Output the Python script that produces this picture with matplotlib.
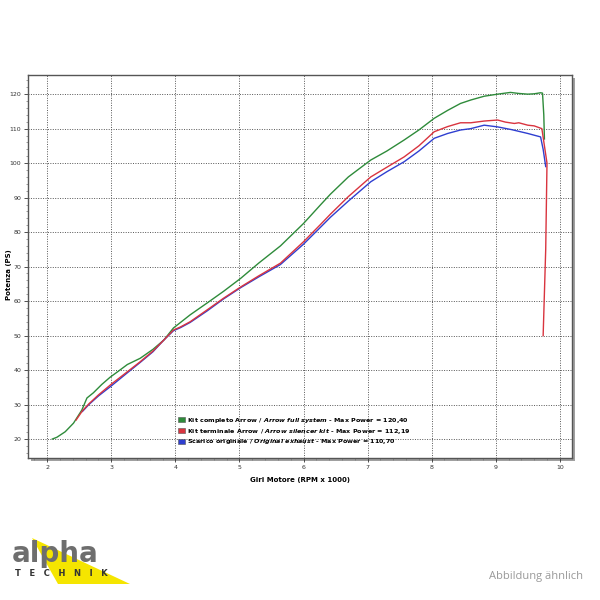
import matplotlib.pyplot as plt
import numpy as np
from matplotlib.patches import Polygon, Rectangle, Patch
from matplotlib.ticker import MultipleLocator

# --- data (RPM x 1000, PS) ---
rpm_full = [2.08, 2.15, 2.28, 2.41, 2.54, 2.62, 2.72, 2.85, 2.98, 3.12, 3.25, 3.45, 3.65, 3.82,
            3.97, 4.08, 4.23, 4.5, 4.75, 5.02, 5.3, 5.64, 6.0, 6.27, 6.42, 6.7, 7.05, 7.3,
            7.57, 7.8, 8.04, 8.25, 8.45, 8.61, 8.82, 9.03, 9.23, 9.36, 9.5, 9.6, 9.7, 9.73, 9.75, 9.76]
ps_full = [20.0, 20.5, 22.1, 24.6, 28.4, 31.9, 33.4, 35.8, 37.9, 39.8, 41.6, 43.4, 46.0, 48.7,
           52.2, 53.8, 56.0, 59.5, 62.8, 66.6, 71.0, 76.0, 82.5, 88.0, 91.0, 96.0, 100.9, 103.5,
           106.7, 109.6, 113.0, 115.3, 117.3, 118.3, 119.4, 120.0, 120.5, 120.2, 120.0, 120.1, 120.4, 120.3, 114.0, 107.0]

rpm_silencer = [2.45, 2.55, 2.65, 2.8, 3.0, 3.25, 3.45, 3.65, 3.82, 3.97, 4.08, 4.23, 4.5, 4.75,
                5.02, 5.3, 5.64, 6.0, 6.27, 6.42, 6.7, 7.05, 7.3, 7.57, 7.8, 8.04, 8.25, 8.45,
                8.61, 8.82, 9.03, 9.15, 9.29, 9.36, 9.5, 9.6, 9.72, 9.76, 9.80, 9.78, 9.74]
ps_silencer = [25.5, 28.2, 30.2, 32.8, 35.9, 39.5, 42.4, 45.5, 48.7, 51.6, 52.5, 54.0, 57.5, 60.8,
               64.1, 67.3, 71.0, 77.2, 82.3, 85.2, 90.3, 96.0, 98.8, 101.8, 105.0, 109.1, 110.6, 111.7,
               111.7, 112.2, 112.5, 111.9, 111.5, 111.7, 111.0, 110.8, 110.0, 105.0, 100.0, 75.0, 50.0]

rpm_original = [2.55, 2.65, 2.8, 3.0, 3.25, 3.45, 3.65, 3.82, 3.97, 4.08, 4.23, 4.5, 4.75,
                5.02, 5.3, 5.64, 6.0, 6.27, 6.42, 6.7, 7.05, 7.3, 7.57, 7.8, 8.04, 8.25, 8.45,
                8.61, 8.82, 9.03, 9.25, 9.5, 9.6, 9.7, 9.74, 9.78]
ps_original = [28.0, 30.0, 32.5, 35.4, 39.2, 42.2, 45.3, 48.7, 51.4, 52.3, 53.8, 57.2, 60.6,
               63.9, 67.0, 70.6, 76.5, 81.5, 84.3, 89.0, 94.6, 97.5, 100.4, 103.5, 107.2, 108.6, 109.6,
               110.0, 111.0, 110.5, 109.7, 108.6, 108.1, 107.6, 104.0, 99.0]

labels = [r"Kit completo Arrow / $\it{Arrow\ full\ system}$ - Max Power = 120,40",
          r"Kit terminale Arrow / $\it{Arrow\ silencer\ kit}$ - Max Power = 112,19",
          r"Scarico originale / $\it{Original\ exhaust}$ - Max Power = 110,70"]
colors = ['#2e8b3a', '#d9343f', '#2f3fd0']

plt.rcParams['mathtext.fontset'] = 'custom'
plt.rcParams['mathtext.it'] = 'DejaVu Sans:italic:bold'
plt.rcParams['mathtext.rm'] = 'DejaVu Sans:bold'

fig = plt.figure(figsize=(6, 6), dpi=100)
ax = fig.add_axes([0.0467, 0.2367, 0.9066, 0.638])
ax.set_zorder(2)

# drop shadow on right and bottom of the plot frame
fig.patches.append(Rectangle((0.0467 + 0.005, 0.2367 - 0.005), 0.9066, 0.638,
                             transform=fig.transFigure, facecolor='#a0a0a0',
                             edgecolor='none', zorder=1))
ax.set_facecolor('white')

ax.plot(rpm_original, ps_original, color=colors[2], lw=1.0, zorder=3)
ax.plot(rpm_silencer, ps_silencer, color=colors[1], lw=1.0, zorder=4)
ax.plot(rpm_full, ps_full, color=colors[0], lw=1.0, zorder=2)

ax.set_xlim(1.7, 10.19)
ax.set_ylim(14.5, 125.5)
ax.xaxis.set_major_locator(MultipleLocator(1))
ax.xaxis.set_minor_locator(MultipleLocator(0.2))
ax.yaxis.set_major_locator(MultipleLocator(10))
ax.yaxis.set_minor_locator(MultipleLocator(2))
ax.tick_params(which='major', labelsize=4.5, length=3, width=0.6, colors='#333333', pad=2)
ax.tick_params(which='minor', length=1.5, width=0.5, colors='#777777')
ax.grid(True, which='major', linestyle=(0, (1, 1.5)), color='#555555', lw=0.7)

for s in ax.spines.values():
    s.set_color('#555555')
    s.set_linewidth(1.0)

ax.set_xlabel("Giri Motore (RPM x 1000)", fontsize=5, fontweight='bold', labelpad=5)
ax.set_ylabel("Potenza (PS)", fontsize=5, fontweight='bold')
ax.yaxis.set_label_coords(-0.03, 0.48)

leg_handles = [Patch(facecolor=c, edgecolor='#555555', lw=0.4) for c in colors]
ax.legend(leg_handles, labels, loc='lower left',
          bbox_to_anchor=(0.266, 0.015), frameon=False,
          handlelength=0.95, handleheight=0.9, handletextpad=0.45,
          labelspacing=0.3, prop={'size': 4.6, 'weight': 'bold'})

# alpha TECHNIK logo
fig.patches.append(Polygon([(32 / 600, 1 - 538 / 600), (130 / 600, 1 - 584 / 600),
                            (58 / 600, 1 - 584 / 600)], closed=True,
                           transform=fig.transFigure, facecolor='#f5e500',
                           edgecolor='none', zorder=1))
fig.text(12 / 600, 1 - 554 / 600, "alpha", fontsize=20, fontweight='bold',
         color='#6e6e6e', va='center', ha='left', family='DejaVu Sans', zorder=3)
fig.text(15 / 600, 1 - 574 / 600, "T   E   C   H   N   I   K", fontsize=6, fontweight='bold',
         color='#333333', va='center', ha='left', zorder=3)

fig.text(583 / 600, 1 - 577 / 600, "Abbildung ähnlich", fontsize=8, color='#999999',
         ha='right', va='center', family='Open Sans')

fig.savefig('out.png', dpi=100)
